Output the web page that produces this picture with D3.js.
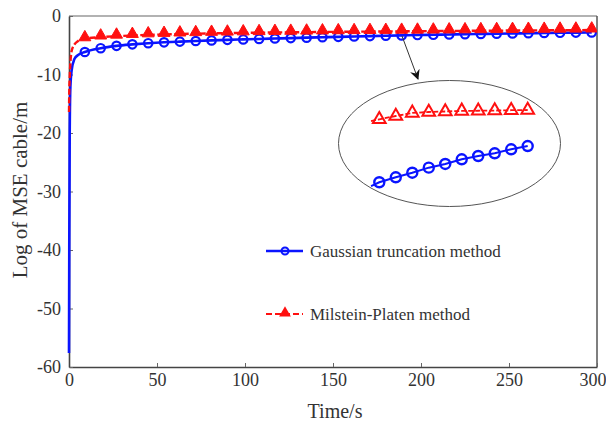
<!DOCTYPE html>
<html>
<head>
<meta charset="utf-8">
<script src="https://cdn.jsdelivr.net/npm/d3@7"></script>
<style>
  html, body { margin: 0; padding: 0; background: #fff; }
  svg text { font-family: "Liberation Serif", "DejaVu Serif", serif; fill: #333; }
</style>
</head>
<body>
<svg id="chart" width="606" height="425"></svg>
<script>
// Sample times (s): dense near start, then every 9 s where markers sit
const times = [0, 0.15, 0.4, 0.8, 1.5, 3, 5,
  9, 18, 27, 36, 45, 54, 63, 72, 81, 90, 99, 108, 117, 126, 135, 144, 153, 162,
  171, 180, 189, 198, 207, 216, 225, 234, 243, 252, 261, 270, 279, 288, 297];

// Log of MSE, Gaussian truncation method
const gaussianMSE = [-57.6, -40, -20, -12, -9.3, -7.4, -6.7,
  -6.15, -5.5, -5.1, -4.85, -4.65, -4.5, -4.38, -4.27, -4.17, -4.08, -4.0, -3.92, -3.85, -3.78, -3.7, -3.63, -3.56, -3.5,
  -3.44, -3.38, -3.32, -3.26, -3.21, -3.16, -3.11, -3.07, -3.03, -2.99, -2.95, -2.91, -2.87, -2.84, -2.8];

// Log of MSE, Milstein-Platen method
const milsteinMSE = [-16.4, -13, -10.5, -8, -6, -4.9, -4.3,
  -3.9, -3.6, -3.45, -3.33, -3.23, -3.15, -3.08, -3.02, -2.97, -2.93, -2.89, -2.85, -2.82, -2.79, -2.76, -2.73, -2.7, -2.68,
  -2.66, -2.64, -2.62, -2.6, -2.58, -2.56, -2.54, -2.52, -2.5, -2.48, -2.46, -2.45, -2.43, -2.42, -2.4];

// Magnified detail shown in the ellipse (index along the detail window)
const insetIdx = [-0.5, 0, 1, 2, 3, 4, 5, 6, 7, 8, 9];
const insetGaussian = [-3.167, -3.131, -3.084, -3.040, -2.992, -2.957, -2.912, -2.881, -2.855, -2.817, -2.786];
const insetMilstein = [-2.548, -2.531, -2.500, -2.471, -2.462, -2.457, -2.452, -2.450, -2.448, -2.445, -2.443];

const xTicks = [0, 50, 100, 150, 200, 250, 300];
const yTicks = [-60, -50, -40, -30, -20, -10, 0];
const seriesNames = ["Gaussian truncation method", "Milstein-Platen method"];

const BLUE = "#0a14ff", RED = "#ff1010";
const SERIF = "'Liberation Serif', 'DejaVu Serif', serif";

const svg = d3.select("#chart");
const plotL = 69, plotR = 597, plotT = 16, plotB = 367;

const x = d3.scaleLinear().domain([0, 300]).range([plotL, plotR]);
const y = d3.scaleLinear().domain([-60, 0]).range([plotB, plotT]);

const defs = svg.append("defs");
defs.append("clipPath").attr("id", "plotClip")
  .append("rect").attr("x", plotL - 3).attr("y", plotT).attr("width", plotR - plotL + 3).attr("height", plotB - plotT);

// frame: top and right edges
svg.append("line").attr("x1", plotL).attr("x2", plotR).attr("y1", plotT).attr("y2", plotT)
  .attr("stroke", "#666").attr("stroke-width", 1.2);
svg.append("line").attr("x1", plotR).attr("x2", plotR).attr("y1", plotT).attr("y2", plotB)
  .attr("stroke", "#555").attr("stroke-width", 1.5);

// axes with inward ticks, plain hyphen for negatives
const fmt = d => String(d);
const xAxis = svg.append("g").attr("transform", `translate(0,${plotB})`)
  .call(d3.axisBottom(x).tickValues(xTicks).tickFormat(fmt).tickSizeInner(-4).tickSizeOuter(0).tickPadding(6));
const yAxis = svg.append("g").attr("transform", `translate(${plotL},0)`)
  .call(d3.axisLeft(y).tickValues(yTicks).tickFormat(fmt).tickSizeInner(-4).tickSizeOuter(0).tickPadding(8));
[xAxis, yAxis].forEach(g => {
  g.attr("font-family", SERIF);
  g.select(".domain").attr("stroke", "#444").attr("stroke-width", 1.6);
  g.selectAll(".tick line").attr("stroke", "#666");
  g.selectAll(".tick text").attr("font-size", 18).attr("fill", "#333");
});
// keep the last time label inside the page
xAxis.selectAll(".tick text").filter(d => d === 300).attr("text-anchor", "end").attr("dx", 9);

// axis titles
svg.append("text").attr("x", 335).attr("y", 418).attr("text-anchor", "middle")
  .attr("font-size", 20).text("Time/s");
svg.append("text").attr("transform", "translate(27,190) rotate(-90)").attr("text-anchor", "middle")
  .attr("font-size", 21).text("Log of MSE cable/m");

// series lines
const plot = svg.append("g").attr("clip-path", "url(#plotClip)");
const line = d3.line().x(d => x(d[0])).y(d => y(d[1])).curve(d3.curveMonotoneX);
const gPts = times.map((t, i) => [t, gaussianMSE[i]]);
const mPts = times.map((t, i) => [t, milsteinMSE[i]]);

plot.append("path").datum(gPts).attr("d", line)
  .attr("fill", "none").attr("stroke", BLUE).attr("stroke-width", 2.6);
plot.selectAll(".gm").data(gPts.filter(d => d[0] >= 9)).enter().append("circle")
  .attr("cx", d => x(d[0])).attr("cy", d => y(d[1])).attr("r", 4.2)
  .attr("fill", "none").attr("stroke", BLUE).attr("stroke-width", 2.2);

plot.append("path").datum(mPts).attr("d", line)
  .attr("fill", "none").attr("stroke", RED).attr("stroke-width", 2.4).attr("stroke-dasharray", "6,2.5");
const tri = d3.symbol().type(d3.symbolTriangle).size(62);
plot.selectAll(".mm").data(mPts.filter(d => d[0] >= 9)).enter().append("path")
  .attr("d", tri).attr("transform", d => `translate(${x(d[0])},${y(d[1]) - 1.5})`)
  .attr("fill", RED).attr("stroke", RED).attr("stroke-width", 1).attr("stroke-linejoin", "round");

// arrow pointing at the magnified detail
defs.append("marker").attr("id", "arrowHead").attr("viewBox", "0 0 10 10")
  .attr("refX", 9).attr("refY", 5).attr("markerWidth", 10).attr("markerHeight", 10)
  .attr("markerUnits", "userSpaceOnUse").attr("orient", "auto")
  .append("path").attr("d", "M0,0 L10,5 L0,10 L3,5 Z").attr("fill", "#111");
svg.append("line").attr("x1", 402).attr("y1", 36).attr("x2", 418).attr("y2", 79)
  .attr("stroke", "#333").attr("stroke-width", 1).attr("marker-end", "url(#arrowHead)");

// ellipse with magnified view
svg.append("ellipse").attr("cx", 449.5).attr("cy", 143.5).attr("rx", 111).attr("ry", 63)
  .attr("fill", "none").attr("stroke", "#555").attr("stroke-width", 1);

const ix = d3.scaleLinear().domain([0, 9]).range([379.3, 527.7]);
const iy = d3.scaleLinear().domain([-3.3, -2.3]).range([200, 95]);
const iline = d3.line().x(d => ix(d[0])).y(d => iy(d[1]));
const igPts = insetIdx.map((k, i) => [k, insetGaussian[i]]);
const imPts = insetIdx.map((k, i) => [k, insetMilstein[i]]);

svg.append("path").datum(igPts).attr("d", iline)
  .attr("fill", "none").attr("stroke", BLUE).attr("stroke-width", 2);
svg.selectAll(".igm").data(igPts.filter(d => d[0] >= 0)).enter().append("circle")
  .attr("cx", d => ix(d[0])).attr("cy", d => iy(d[1])).attr("r", 5)
  .attr("fill", "none").attr("stroke", BLUE).attr("stroke-width", 2.4);

svg.append("path").datum(imPts).attr("d", iline)
  .attr("fill", "none").attr("stroke", RED).attr("stroke-width", 1.8).attr("stroke-dasharray", "5,2");
const itri = d3.symbol().type(d3.symbolTriangle).size(70);
svg.selectAll(".imm").data(imPts.filter(d => d[0] >= 0)).enter().append("path")
  .attr("d", itri).attr("transform", d => `translate(${ix(d[0])},${iy(d[1])})`)
  .attr("fill", "none").attr("stroke", RED).attr("stroke-width", 2);

// legend
const legend = svg.append("g");
const lg = legend.append("g").attr("transform", "translate(266,251)");
lg.append("line").attr("x1", 0).attr("x2", 37).attr("stroke", BLUE).attr("stroke-width", 2.6);
lg.append("circle").attr("cx", 19).attr("r", 3.5).attr("fill", "none").attr("stroke", BLUE).attr("stroke-width", 2);
lg.append("text").attr("x", 44).attr("y", 5.5).attr("font-size", 17).text(seriesNames[0]);

const lm = legend.append("g").attr("transform", "translate(266,314)");
lm.append("line").attr("x1", 0).attr("x2", 37).attr("stroke", RED).attr("stroke-width", 2.2).attr("stroke-dasharray", "6,3");
lm.append("path").attr("d", d3.symbol().type(d3.symbolTriangle).size(60)).attr("transform", "translate(19,-1)")
  .attr("fill", RED);
lm.append("text").attr("x", 44).attr("y", 5.5).attr("font-size", 17).text(seriesNames[1]);

// one serif face for every label
svg.selectAll("text").style("font-family", SERIF).style("font-weight", "normal");
</script>
</body>
</html>
